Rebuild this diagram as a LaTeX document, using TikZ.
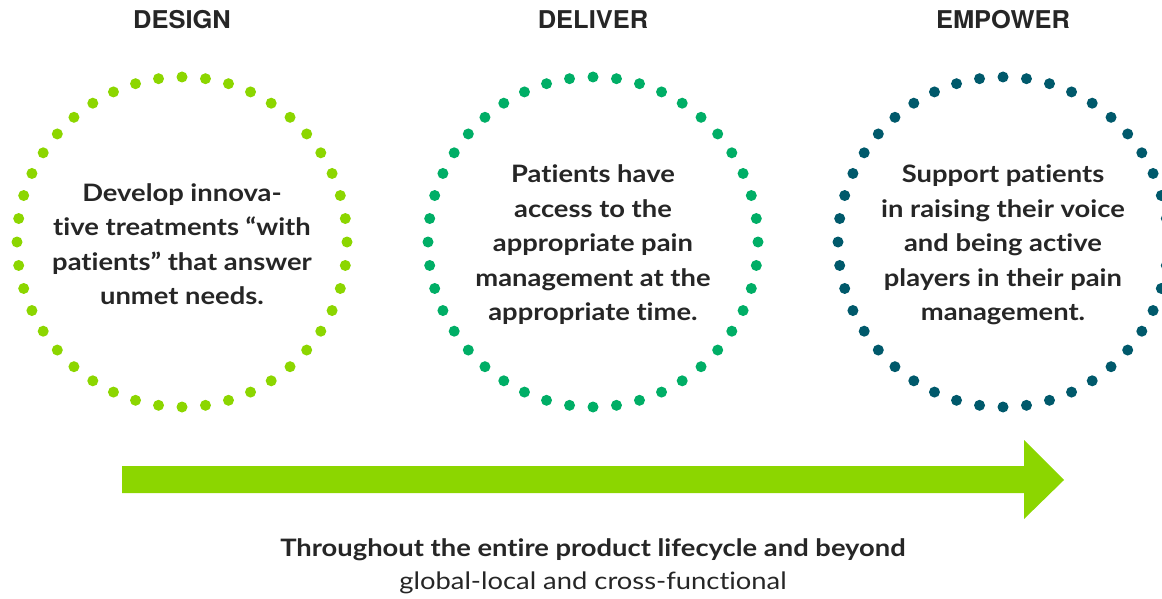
\documentclass[tikz,border=0pt]{standalone}
\usepackage{fontspec}
\setmainfont{Lato}[FakeStretch=1.14,Ligatures=CommonOff]
\newfontfamily\headfont{TeX Gyre Heros}[FakeStretch=1.04]
\usetikzlibrary{calc}
\definecolor{designgreen}{HTML}{8CD600}
\definecolor{delivergreen}{HTML}{00AE66}
\definecolor{empowerteal}{HTML}{00596B}
\definecolor{inkgray}{HTML}{262626}

\begin{document}
\begin{tikzpicture}[x=1pt,y=-1pt,
  head/.style={inkgray,font=\headfont\bfseries\fontsize{24.5}{28}\selectfont},
  blurb/.style={inkgray,align=center,font=\bfseries\fontsize{24}{34.5}\selectfont},
  foot/.style={inkgray,font=\fontsize{24}{28}\selectfont}]
\def\r{165};
\useasboundingbox (0,0) rectangle (1162,599);
\coordinate (A) at (182,242);
\coordinate (B) at (593,242);
\coordinate (C) at (1003,242);
% dotted rings
\foreach \c/\col in {A/designgreen,B/delivergreen,C/empowerteal}
  \foreach \i in {0,...,43}
    \fill[\col] ($(\c)+({90+\i*360/44}:\r)$) circle (5.5);
\node[head] (designhead) at ($(A)+(0,-222)$) {DESIGN};
\node[head] (deliverhead) at ($(B)+(0,-222)$) {DELIVER};
\node[head] (empowerhead) at ($(C)+(0,-222)$) {EMPOWER};
\node[blurb] (design) at ($(A)+(0,2)$) {Develop innova-\\tive treatments “with\\patients” that answer\\unmet needs.};
\node[blurb] (deliver) at ($(B)+(0,3)$) {Patients have\\access to the\\appropriate pain\\management at the\\appropriate time.};
\node[blurb] (empower) at ($(C)+(0,3)$) {Support patients\\in raising their voice\\and being active\\players in their pain\\management.};
% big arrow
\fill[designgreen] (122,466) -- (1024,466) -- (1024,440) -- (1064,480)
  -- (1024,519) -- (1024,493) -- (122,493) -- cycle;
\node[foot,font=\bfseries\fontsize{24}{28}\selectfont] (lifecycle) at (593,550) {Throughout the entire product lifecycle and beyond};
\node[foot] (reach) at (593,583) {global-local and cross-functional};
\end{tikzpicture}
\end{document}
